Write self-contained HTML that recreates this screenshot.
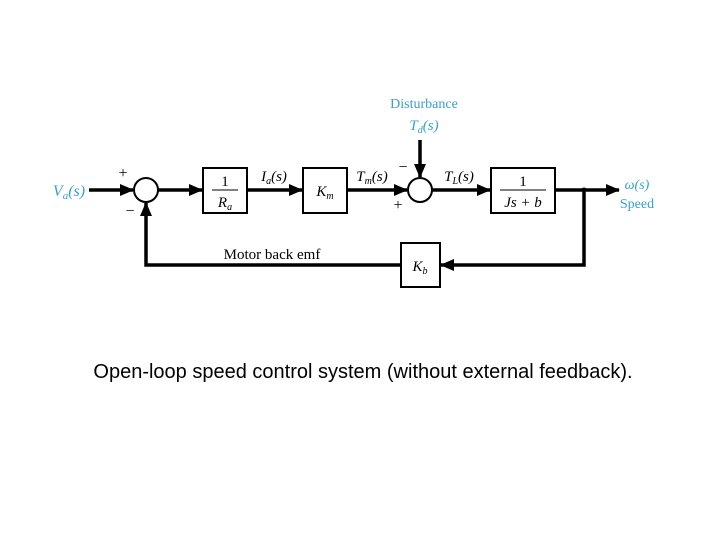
<!DOCTYPE html>
<html><head><style>body{margin:0;background:#fff;width:720px;height:540px;overflow:hidden}</style></head><body>
<svg width="720" height="540" xmlns="http://www.w3.org/2000/svg" font-family="Liberation Serif, serif">
<defs><marker id="a" markerWidth="14" markerHeight="12" refX="13" refY="6" orient="auto" markerUnits="userSpaceOnUse"><path d="M0,0 L14,6 L0,12 z" fill="#000"/></marker></defs>
<g stroke="#000" stroke-width="3.5" fill="none">
<line x1="89" y1="190" x2="133" y2="190" marker-end="url(#a)"/>
<line x1="158" y1="190" x2="202" y2="190" marker-end="url(#a)"/>
<line x1="247" y1="190" x2="302" y2="190" marker-end="url(#a)"/>
<line x1="347" y1="190" x2="407" y2="190" marker-end="url(#a)"/>
<line x1="432" y1="190" x2="490" y2="190" marker-end="url(#a)"/>
<line x1="555" y1="190" x2="619" y2="190" marker-end="url(#a)"/>
<line x1="420" y1="140" x2="420" y2="177" marker-end="url(#a)"/>
<polyline points="584,190 584,265 441,265" marker-end="url(#a)"/>
<polyline points="401,265 146,265 146,203" marker-end="url(#a)"/>
</g>
<circle cx="584" cy="190" r="2.5" fill="#000"/>
<g stroke="#000" stroke-width="2" fill="#fff">
<circle cx="146" cy="190" r="12"/><circle cx="420" cy="190" r="12"/>
<rect x="203" y="168" width="44" height="45"/><rect x="303" y="168" width="44" height="45"/>
<rect x="491" y="168" width="64" height="45"/><rect x="401" y="243" width="39" height="44"/>
</g>
<line x1="212" y1="190" x2="238" y2="190" stroke="#000" stroke-width="1"/>
<line x1="500" y1="190" x2="546" y2="190" stroke="#000" stroke-width="1"/>
<g font-size="15" fill="#000" font-style="italic" text-anchor="middle">
<text x="225" y="186" font-style="normal">1</text><text x="225" y="207">R<tspan font-size="10" dy="3">a</tspan></text>
<text x="325" y="196">K<tspan font-size="10" dy="3">m</tspan></text>
<text x="523" y="186" font-style="normal">1</text><text x="523" y="207">Js + b</text>
<text x="420" y="271">K<tspan font-size="10" dy="3">b</tspan></text>
<text x="274" y="181">I<tspan font-size="10" dy="3">a</tspan><tspan dy="-3">(s)</tspan></text>
<text x="372" y="181">T<tspan font-size="10" dy="3">m</tspan><tspan dy="-3">(s)</tspan></text>
<text x="459" y="181">T<tspan font-size="10" dy="3">L</tspan><tspan dy="-3">(s)</tspan></text>
</g>
<g font-size="16" fill="#000" text-anchor="middle">
<text x="123" y="178">+</text><text x="130" y="216">−</text>
<text x="403" y="172">−</text><text x="398" y="210">+</text>
<text x="272" y="259" font-size="15">Motor back emf</text>
</g>
<g fill="#3aa0c8" text-anchor="middle">
<text x="69" y="196" font-size="16" font-style="italic">V<tspan font-size="11" dy="3">a</tspan><tspan dy="-3">(s)</tspan></text>
<text x="424" y="108" font-size="14">Disturbance</text>
<text x="424" y="130" font-size="15" font-style="italic">T<tspan font-size="10" dy="3">d</tspan><tspan dy="-3">(s)</tspan></text>
<text x="637" y="189" font-size="14" font-style="italic">ω(s)</text>
<text x="637" y="208" font-size="14">Speed</text>
</g>
<text x="363" y="378" font-size="20" text-anchor="middle" font-family="Liberation Sans, sans-serif">Open-loop speed control system (without external feedback).</text>
</svg>
</body></html>
